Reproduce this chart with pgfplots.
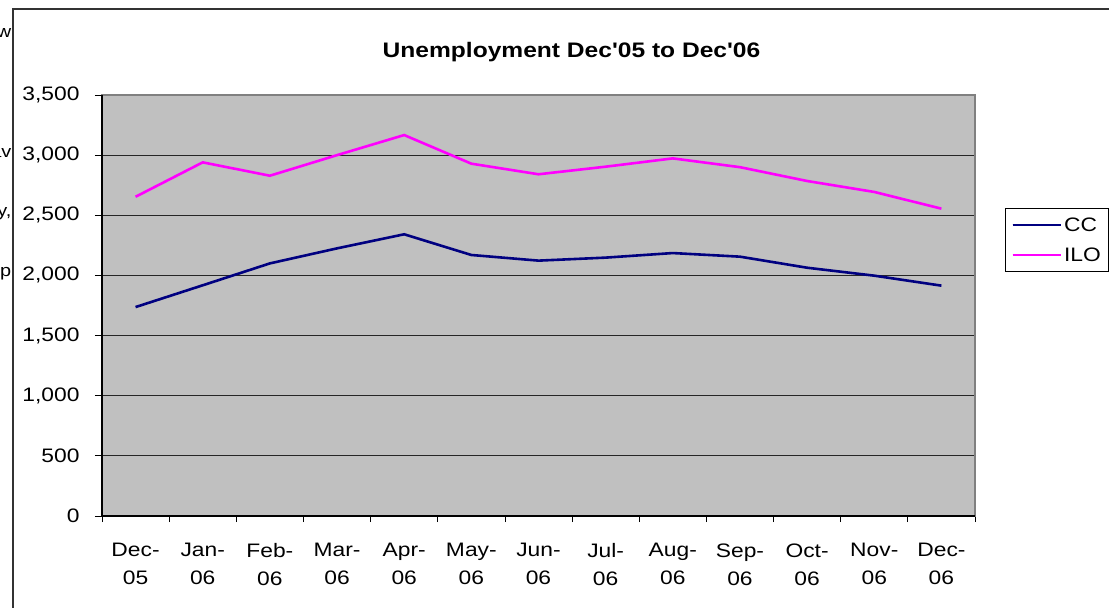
\documentclass[border=0pt]{standalone}
\usepackage{pgfplots}
\pgfplotsset{compat=1.18}
\usepackage{fontspec}
\setmainfont{Liberation Sans}[Ligatures=TeXOff, FakeStretch=1.17]

\definecolor{plotgray}{RGB}{192,192,192}
\definecolor{bordergray}{RGB}{128,128,128}
\definecolor{ccblue}{RGB}{0,0,128}
\definecolor{ilomag}{RGB}{255,0,255}

\begin{document}
\begin{tikzpicture}
  \begin{axis}[
      at={(0pt,0pt)}, anchor=south west,
      scale only axis,
      width=873pt, height=421pt,
      xmin=-0.5, xmax=12.5,
      ymin=0, ymax=3500,
      ytick={0,500,...,3500},
      xtick={0,...,12},
      xticklabels={{Dec-\\05},{Jan-\\06},{Feb-\\06},{Mar-\\06},{Apr-\\06},{May-\\06},
        {Jun-\\06},{Jul-\\06},{Aug-\\06},{Sep-\\06},{Oct-\\06},{Nov-\\06},{Dec-\\06}},
      minor xtick={-0.5,0.5,...,12.5},
      major x tick style={draw=none},
      minor x tick style={draw=black, line width=0.8pt},
      y tick style={draw=black, line width=0.8pt},
      major tick length=7pt,
      minor tick length=6pt,
      tick align=outside,
      tick pos=left,
      axis line style={draw=bordergray, line width=2pt},
      axis background/.style={fill=plotgray},
      ymajorgrids,
      major grid style={draw=black!85, line width=0.8pt},
      /pgf/number format/.cd, 1000 sep={,}, assume math mode=true,
      /pgfplots/.cd,
      tick label style={font=\fontsize{19.5}{28}\selectfont},
      x tick label style={align=center, yshift=-17pt},
      y tick label style={xshift=-12pt},
      legend style={at={(1.0344,0.7316)}, anchor=north west,
        draw=black, fill=white, line width=0.8pt,
        font=\fontsize{19.5}{22}\selectfont,
        inner xsep=6pt, inner ysep=7pt, row sep=11pt},
      legend cell align=left,
      legend image code/.code={\draw[#1] (0pt,0pt) -- (45pt,0pt); \path (0pt,0pt) -- (48pt,0pt);},
      clip=false,
    ]
    \addplot[ccblue, line width=2.6pt] coordinates {
      (0,1737) (1,1918) (2,2100) (3,2225) (4,2342) (5,2170) (6,2123)
      (7,2148) (8,2186) (9,2156) (10,2064) (11,1998) (12,1915)};
    \addlegendentry{CC}
    \addplot[ilomag, line width=2.6pt] coordinates {
      (0,2654) (1,2940) (2,2829) (3,3000) (4,3167) (5,2929) (6,2841)
      (7,2904) (8,2973) (9,2900) (10,2785) (11,2694) (12,2555)};
    \addlegendentry{ILO}
    \draw[black, line width=1.2pt] (rel axis cs:0,1) -- (rel axis cs:0,0) -- (rel axis cs:1,0);
  \end{axis}
  % chart frame and title
  \draw[black!80, line width=1.5pt] (-89pt,-100pt) -- (-89pt,507pt) -- (1020pt,507pt);
  \node[font=\fontsize{21}{25}\selectfont\bfseries] at (469.5pt,464pt) {Unemployment Dec'05 to Dec'06};
  % clipped text from outside the chart
  \begin{scope}[font=\fontsize{17}{20}\selectfont]
    \node[anchor=east, inner sep=0pt] at (-90.5pt,483pt) {aw};
    \node[anchor=east, inner sep=0pt] at (-90.5pt,363pt) {av};
    \node[anchor=east, inner sep=0pt] at (-90.5pt,302pt) {y,};
    \node[anchor=east, inner sep=0pt] at (-90.5pt,242pt) {p};
  \end{scope}
  \pgfresetboundingbox
  \useasboundingbox (-102pt,-92pt) rectangle (1007pt,516pt);
\end{tikzpicture}
\end{document}
